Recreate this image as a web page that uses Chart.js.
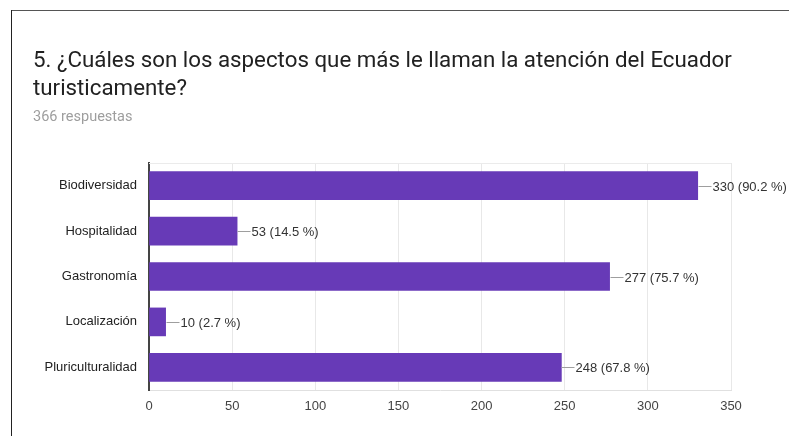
<!DOCTYPE html>
<html>
<head>
<meta charset="utf-8">
<script src="https://cdn.jsdelivr.net/npm/chart.js@4"></script>
<style>
  html, body { margin: 0; padding: 0; background: #fff; }
  body { width: 789px; height: 436px; position: relative; overflow: hidden; }
  #frameTop { position: absolute; left: 11px; top: 10px; width: 778px; height: 1px; background: #555; }
  #frameLeft { position: absolute; left: 11px; top: 10px; width: 1px; height: 426px; background: #222; }
  #title { position: absolute; left: 33px; top: 45px; font-family: Roboto, Arial, sans-serif; font-size: 22.3px; line-height: 28px; color: #212121; white-space: nowrap; }
  #sub { position: absolute; left: 33px; top: 108px; font-family: Roboto, Arial, sans-serif; font-size: 14.5px; line-height: 17px; color: #9e9e9e; }
  #chart { position: absolute; left: 0; top: 0; }
</style>
</head>
<body>
<canvas id="chart" width="789" height="436"></canvas>
<div id="frameTop"></div>
<div id="frameLeft"></div>
<div id="title">5. ¿Cuáles son los aspectos que más le llaman la atención del Ecuador<br>turisticamente?</div>
<div id="sub">366 respuestas</div>
<script>
// data
const categories = ["Biodiversidad", "Hospitalidad", "Gastronomía", "Localización", "Pluriculturalidad"];
const counts = [330, 53, 277, 10, 248];
const percents = ["90.2", "14.5", "75.7", "2.7", "67.8"];
const xTicks = [0, 50, 100, 150, 200, 250, 300, 350];

// "—330 (90.2 %)" labels next to each bar
const barLabels = {
    id: "barLabels",
    afterDatasetsDraw(chart) {
        const ctx = chart.ctx;
        const meta = chart.getDatasetMeta(0);
        ctx.save();
        ctx.font = "13px Arial, 'Liberation Sans', sans-serif";
        ctx.textBaseline = "middle";
        ctx.textAlign = "left";
        meta.data.forEach((bar, i) => {
            const x = Math.round(bar.x) + 0.5;
            const y = Math.round(bar.y) + 0.5;
            ctx.strokeStyle = "#9e9e9e";
            ctx.lineWidth = 1;
            ctx.beginPath();
            ctx.moveTo(x, y);
            ctx.lineTo(x + 13, y);
            ctx.stroke();
            ctx.fillStyle = "#333";
            ctx.fillText(counts[i] + " (" + percents[i] + " %)", x + 14, y + 1);
        });
        ctx.restore();
    }
};

// faint top edge of the plot area
const plotTop = {
    id: "plotTop",
    beforeDatasetsDraw(chart) {
        const a = chart.chartArea;
        const ctx = chart.ctx;
        ctx.save();
        ctx.strokeStyle = "#ebebeb";
        ctx.lineWidth = 1;
        ctx.beginPath();
        ctx.moveTo(a.left, Math.round(a.top) + 0.5);
        ctx.lineTo(a.right, Math.round(a.top) + 0.5);
        ctx.stroke();
        ctx.restore();
    }
};

const chart = new Chart(document.getElementById("chart").getContext("2d"), {
    type: "bar",
    data: {
        labels: categories,
        datasets: [{
            data: counts,
            backgroundColor: "#673ab7",
            borderWidth: 0,
            barThickness: 28
        }]
    },
    options: {
        indexAxis: "y",
        responsive: false,
        animation: false,
        devicePixelRatio: 1,
        layout: { padding: { top: 163, right: 58, bottom: 0, left: 0 } },
        plugins: {
            legend: { display: false },
            tooltip: { enabled: false }
        },
        scales: {
            x: {
                min: 0,
                max: 350,
                afterBuildTicks(scale) {
                    scale.ticks = xTicks.map(v => ({ value: v }));
                },
                afterFit(scale) { scale.height = 46; },
                grid: { color: "#e8e8e8", drawTicks: false, tickLength: 0 },
                border: { color: "#e0e0e0" },
                ticks: {
                    padding: 9,
                    color: "#444",
                    font: { family: "Arial, 'Liberation Sans', sans-serif", size: 13 }
                }
            },
            y: {
                afterFit(scale) { scale.width = 149; },
                grid: { display: false, drawTicks: false, tickLength: 0 },
                border: { display: true, color: "#444", width: 2 },
                ticks: {
                    padding: 12,
                    color: "#222",
                    font: { family: "Arial, 'Liberation Sans', sans-serif", size: 13 }
                }
            }
        }
    },
    plugins: [plotTop, barLabels]
});
</script>
</body>
</html>
